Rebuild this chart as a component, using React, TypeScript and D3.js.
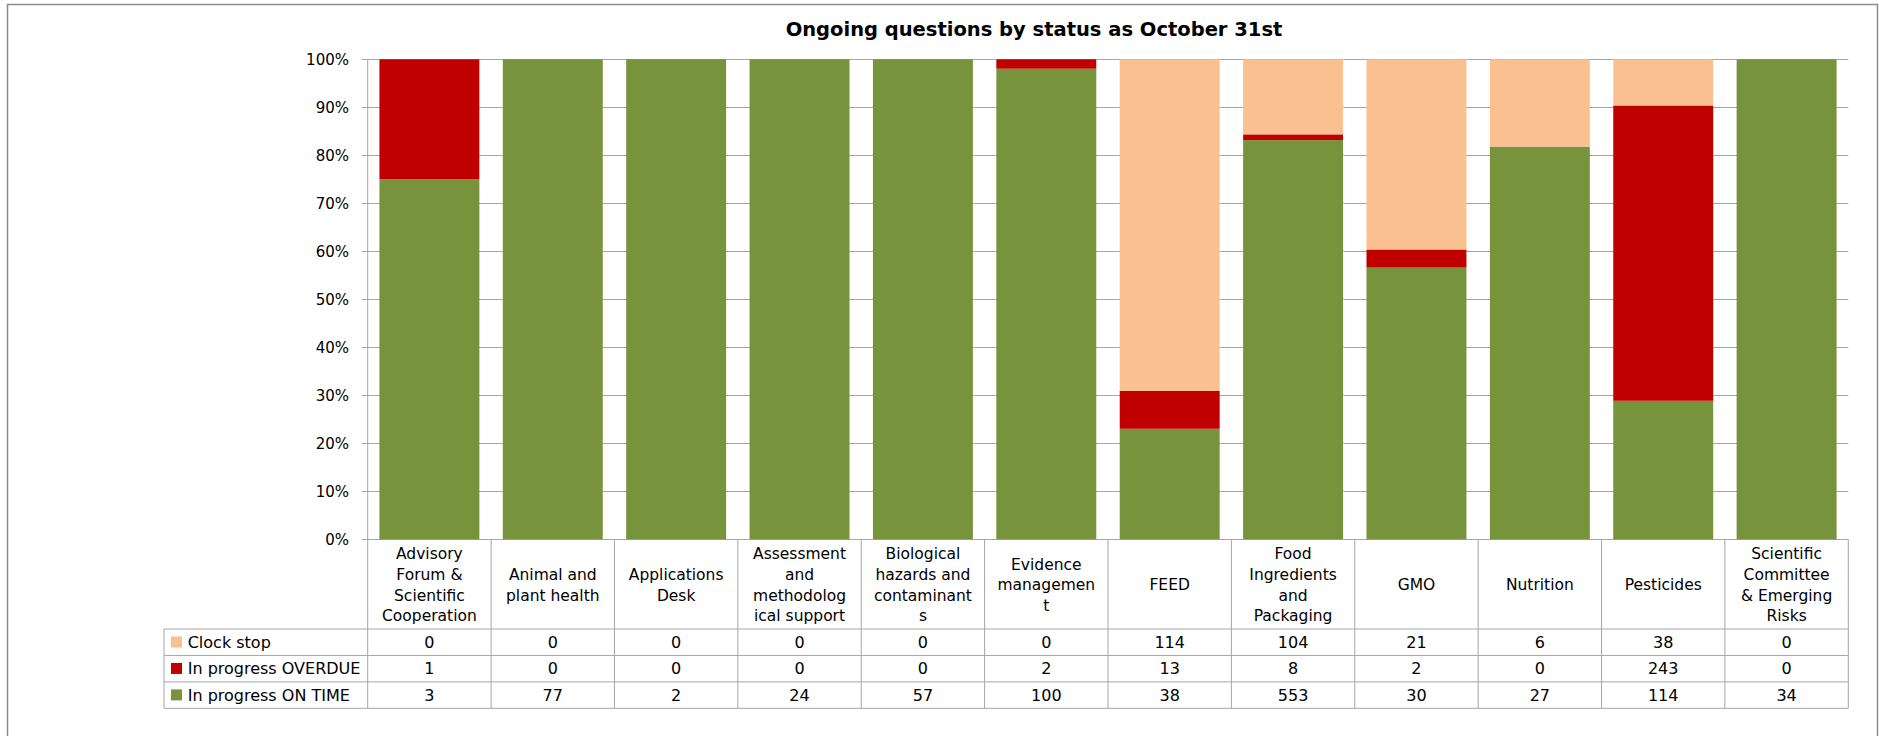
import React from "react";
import * as d3 from "d3";

const title = "Ongoing questions by status as October 31st";

const categories = [
  "Advisory Forum & Scientific Cooperation",
  "Animal and plant health",
  "Applications Desk",
  "Assessment and methodological support",
  "Biological hazards and contaminants",
  "Evidence management",
  "FEED",
  "Food Ingredients and Packaging",
  "GMO",
  "Nutrition",
  "Pesticides",
  "Scientific Committee & Emerging Risks",
];

const categoryLabelLines = [
  ["Advisory", "Forum &", "Scientific", "Cooperation"],
  ["Animal and", "plant health"],
  ["Applications", "Desk"],
  ["Assessment", "and", "methodolog", "ical support"],
  ["Biological", "hazards and", "contaminant", "s"],
  ["Evidence", "managemen", "t"],
  ["FEED"],
  ["Food", "Ingredients", "and", "Packaging"],
  ["GMO"],
  ["Nutrition"],
  ["Pesticides"],
  ["Scientific", "Committee", "& Emerging", "Risks"],
];

const seriesNames = ["Clock stop", "In progress OVERDUE", "In progress ON TIME"];
const clockStop = [0, 0, 0, 0, 0, 0, 114, 104, 21, 6, 38, 0];
const overdue = [1, 0, 0, 0, 0, 2, 13, 8, 2, 0, 243, 0];
const onTime = [3, 77, 2, 24, 57, 100, 38, 553, 30, 27, 114, 34];
const seriesColors = ["#FAC090", "#C00000", "#77933C"];

const yTicks = [0, 0.1, 0.2, 0.3, 0.4, 0.5, 0.6, 0.7, 0.8, 0.9, 1];

const W = 1879;
const H = 736;
const plotLeft = 367.7;
const plotRight = 1848.3;
const plotTop = 59.3;
const plotBottom = 539.3;
const headerBottom = 629;
const rowH = 26.45;
const tableLeft = 164;

export default function App() {
  const x = d3
    .scaleBand<string>()
    .domain(categories)
    .range([plotLeft, plotRight])
    .paddingInner(0.19)
    .paddingOuter(0.095);
  const y = d3.scaleLinear().domain([0, 1]).range([plotBottom, plotTop]);

  const rows = categories.map((c, i) => ({
    cat: c,
    onTime: onTime[i],
    overdue: overdue[i],
    clockStop: clockStop[i],
  }));
  const stack = d3
    .stack<any>()
    .keys(["onTime", "overdue", "clockStop"])
    .offset(d3.stackOffsetExpand);
  const stacked = stack(rows);
  const keyColor: Record<string, string> = {
    onTime: seriesColors[2],
    overdue: seriesColors[1],
    clockStop: seriesColors[0],
  };

  const step = x.step();
  const boundaries = d3.range(categories.length + 1).map((i) => plotLeft + i * step);
  const tableRowsData = [clockStop, overdue, onTime];
  const rowTops = [0, 1, 2].map((r) => headerBottom + r * rowH);
  const tableBottom = headerBottom + 3 * rowH;
  const lineH = 20.6;
  const font = "'DejaVu Sans', sans-serif";
  const grid = "#A6A6A6";

  return (
    <svg
      width={W}
      height={H}
      style={{ position: "absolute", left: 0, top: 0, background: "#fff" }}
    >
      <rect x={7.5} y={4.5} width={1870} height={760} fill="#fff" stroke="#8C8C8C" strokeWidth={1.5} />
      <text
        x={1034}
        y={36}
        textAnchor="middle"
        fontFamily={font}
        fontWeight="bold"
        fontSize={19.5}
        fill="#000"
      >
        {title}
      </text>

      {/* gridlines and y axis */}
      {yTicks.map((t) => (
        <g key={t}>
          <line
            x1={plotLeft - 6}
            x2={plotRight}
            y1={Math.round(y(t)) + 0.5}
            y2={Math.round(y(t)) + 0.5}
            stroke={grid}
            strokeWidth={1}
          />
          <text
            x={349}
            y={y(t) + 5.3}
            textAnchor="end"
            fontFamily={font}
            fontSize={15}
            fill="#000"
          >
            {d3.format(".0%")(t)}
          </text>
        </g>
      ))}
      <line x1={plotLeft} x2={plotLeft} y1={plotTop} y2={plotBottom} stroke={grid} />

      {/* bars */}
      {stacked.map((s) => (
        <g key={s.key} fill={keyColor[s.key]}>
          {s.map((d, i) => {
            const h = y(d[0]) - y(d[1]);
            if (h <= 0) return null;
            return (
              <rect
                key={i}
                x={x(categories[i])}
                y={y(d[1])}
                width={x.bandwidth()}
                height={h}
              />
            );
          })}
        </g>
      ))}

      {/* data table */}
      {boundaries.map((bx, i) => (
        <line key={i} x1={bx} x2={bx} y1={plotBottom} y2={tableBottom} stroke={grid} />
      ))}
      <line x1={tableLeft} x2={tableLeft} y1={headerBottom} y2={tableBottom} stroke={grid} />
      {[0, 1, 2, 3].map((r) => (
        <line
          key={r}
          x1={tableLeft}
          x2={plotRight}
          y1={headerBottom + r * rowH}
          y2={headerBottom + r * rowH}
          stroke={grid}
        />
      ))}

      {categoryLabelLines.map((lines, i) => {
        const cx = (x(categories[i]) as number) + x.bandwidth() / 2;
        const first = 590.3 - ((lines.length - 1) * lineH) / 2;
        return (
          <text key={i} textAnchor="middle" fontFamily={font} fontSize={15.5} fill="#000">
            {lines.map((l, j) => (
              <tspan key={j} x={cx} y={first + j * lineH}>
                {l}
              </tspan>
            ))}
          </text>
        );
      })}

      {tableRowsData.map((vals, r) => (
        <g key={r}>
          <rect
            x={171}
            y={rowTops[r] + 7.5}
            width={11}
            height={11}
            fill={seriesColors[r]}
          />
          <text
            x={187.7}
            y={rowTops[r] + 18.7}
            fontFamily={font}
            fontSize={16}
            fill="#000"
          >
            {seriesNames[r]}
          </text>
          {vals.map((v, i) => (
            <text
              key={i}
              x={(x(categories[i]) as number) + x.bandwidth() / 2}
              y={rowTops[r] + 18.7}
              textAnchor="middle"
              fontFamily={font}
              fontSize={16}
              fill="#000"
            >
              {v}
            </text>
          ))}
        </g>
      ))}
    </svg>
  );
}
